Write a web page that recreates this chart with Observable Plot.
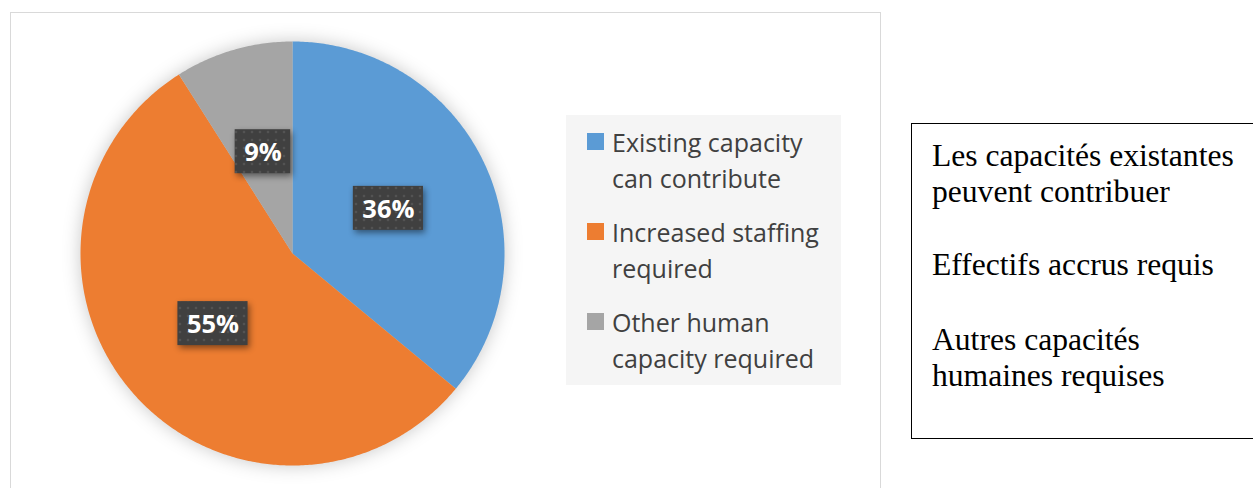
<!DOCTYPE html>
<html>
<head>
<meta charset="utf-8">
<script src="https://cdn.jsdelivr.net/npm/d3@7"></script>
<script src="https://cdn.jsdelivr.net/npm/@observablehq/plot@0.6"></script>
<style>
  html, body { margin: 0; padding: 0; background: #fff; }
  #page { position: relative; width: 1253px; height: 488px; overflow: hidden; background: #fff; }
  #frame { position: absolute; left: 10px; top: 12px; width: 871px; height: 520px; border: 1px solid #D9D9D9; box-sizing: border-box; }
  #chart { position: absolute; left: 0; top: 0; }
  .pie g[aria-label="line"] { filter: drop-shadow(0 0 9px rgba(0,0,0,0.22)); }
  .pie g[aria-label="rect"] rect { filter: drop-shadow(2px 3px 3px rgba(0,0,0,0.45)); }
  #legend { position: absolute; left: 566px; top: 115px; width: 275px; height: 270px; background: #F5F5F5; }
  .item { position: absolute; left: 0; font-family: "Open Sans", sans-serif; font-size: 25px; line-height: 36px; color: #404040; }
  .item .sw { position: absolute; left: 21px; top: 9px; width: 17px; height: 17px; }
  .item .tx { position: absolute; left: 46px; top: 0; white-space: nowrap; }
  #fr { position: absolute; left: 911px; top: 123px; width: 400px; height: 316px; border: 1.5px solid #000; box-sizing: border-box; }
  .fp { position: absolute; left: 932px; font-family: "Liberation Serif", "Times New Roman", serif; font-size: 31.6px; line-height: 36px; color: #000; white-space: nowrap; }
</style>
</head>
<body>
<div id="page">
  <div id="frame"></div>
  <div id="chart"></div>
  <div id="legend"></div>
  <div id="fr"></div>
</div>
<script>
// ---- data ----
const categories = ["Existing capacity can contribute", "Increased staffing required", "Other human capacity required"];
const legendLines = [["Existing capacity", "can contribute"], ["Increased staffing", "required"], ["Other human", "capacity required"]];
const values = [36, 55, 9];
const colors = ["#5B9BD5", "#ED7D31", "#A5A5A5"];
const frenchParagraphs = [["Les capacités existantes", "peuvent contribuer"], ["Effectifs accrus requis"], ["Autres capacités", "humaines requises"]];

// ---- geometry from data ----
const R = 212; // pixel radius (1 data unit)
const arcs = d3.pie().sort(null).value(d => d.value)(categories.map((c, i) => ({cat: c, value: values[i]})));
const slicePts = [];
for (const a of arcs) {
  slicePts.push({cat: a.data.cat, x: 0, y: 0});
  const n = Math.max(2, Math.ceil((a.endAngle - a.startAngle) / 0.01));
  for (let k = 0; k <= n; k++) {
    const t = a.startAngle + (a.endAngle - a.startAngle) * k / n;
    slicePts.push({cat: a.data.cat, x: Math.sin(t), y: Math.cos(t)});
  }
}
const labels = arcs.map(a => {
  const m = (a.startAngle + a.endAngle) / 2;
  const text = a.data.value + "%";
  return {cat: a.data.cat, text, x: 0.5 * Math.sin(m), y: 0.5 * Math.cos(m)};
});
const LABEL_FS = 25.5;
const ctx = document.createElement("canvas").getContext("2d");
ctx.font = `bold ${LABEL_FS}px 'Open Sans'`;
labels.forEach(l => { l.hw = (ctx.measureText(l.text).width + 18) / 2 / R; l.hh = 22 / R; });

const chart = Plot.plot({
  width: 560,
  height: 488,
  margin: 0,
  className: "pie",
  x: {domain: [-1, 1], range: [80, 504], axis: null},
  y: {domain: [-1, 1], range: [465, 41], axis: null},
  color: {domain: categories, range: colors},
  marks: [
    Plot.line(slicePts, {x: "x", y: "y", z: "cat", fill: "cat", stroke: "none"}),
    Plot.rect(labels, {x1: d => d.x - d.hw, x2: d => d.x + d.hw, y1: d => d.y - d.hh, y2: d => d.y + d.hh, fill: "url(#dotpat)"}),
    Plot.text(labels, {x: "x", y: "y", text: "text", fill: "white", fontSize: LABEL_FS, fontWeight: "bold", fontFamily: "Open Sans", dy: 1})
  ]
});
const ns = "http://www.w3.org/2000/svg";
const defs = document.createElementNS(ns, "defs");
defs.innerHTML = '<pattern id="dotpat" patternUnits="userSpaceOnUse" width="8" height="8"><rect width="8" height="8" fill="#404040"/><circle cx="4" cy="4" r="1.3" fill="#535353"/></pattern>';
chart.insertBefore(defs, chart.firstChild);
document.getElementById("chart").appendChild(chart);

// legend
const leg = document.getElementById("legend");
categories.forEach((c, i) => {
  const it = document.createElement("div");
  it.className = "item";
  it.style.top = (9 + i * 90) + "px";
  it.innerHTML = `<div class="sw" style="background:${colors[i]}"></div><div class="tx">${legendLines[i].join("<br>")}</div>`;
  leg.appendChild(it);
});

// French text box
const tops = [138, 247, 322];
const page = document.getElementById("page");
frenchParagraphs.forEach((p, i) => {
  const d = document.createElement("div");
  d.className = "fp";
  d.style.top = tops[i] + "px";
  d.innerHTML = p.join("<br>");
  page.appendChild(d);
});
</script>
</body>
</html>
